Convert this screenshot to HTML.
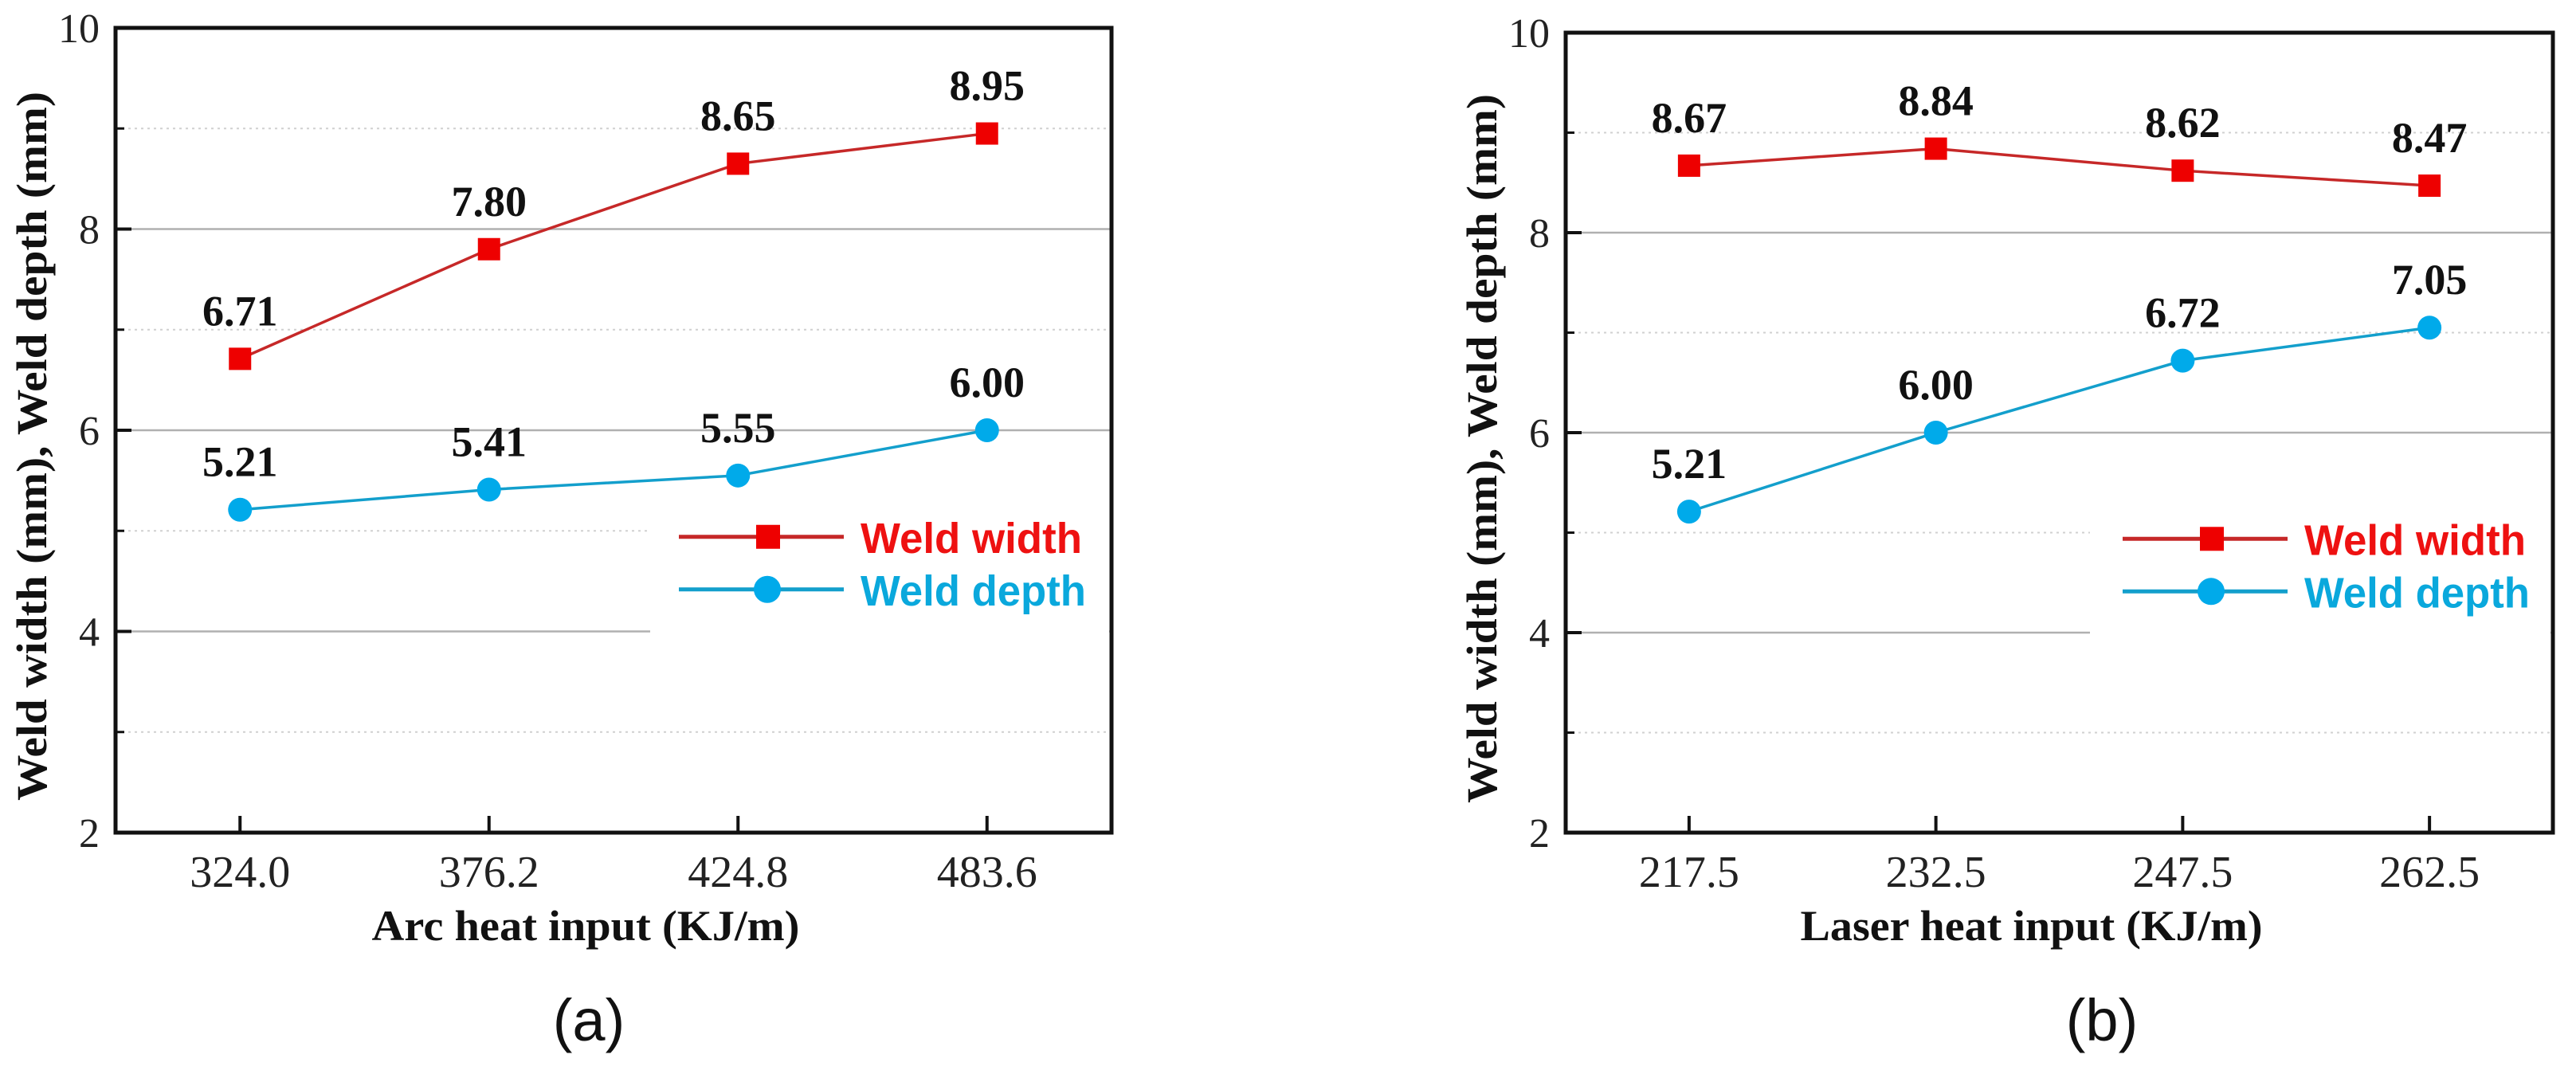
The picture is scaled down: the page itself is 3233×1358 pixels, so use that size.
<!DOCTYPE html>
<html><head><meta charset="utf-8"><style>
html,body{margin:0;padding:0;background:#fff;}
svg{display:block;}
</style></head><body>
<svg id="fig" width="3233" height="1358" viewBox="0 0 3233 1358" xmlns="http://www.w3.org/2000/svg"></svg>
<script>
const catsA = ["324.0","376.2","424.8","483.6"];
const widthA = [6.71,7.80,8.65,8.95];
const depthA = [5.21,5.41,5.55,6.00];
const catsB = ["217.5","232.5","247.5","262.5"];
const widthB = [8.67,8.84,8.62,8.47];
const depthB = [5.21,6.00,6.72,7.05];
const yTicks = [2,4,6,8,10];
const yMinor = [3,5,7,9];

const NS="http://www.w3.org/2000/svg";
const svg=document.getElementById('fig');
function mk(tag,attrs,parent,text){const e=document.createElementNS(NS,tag);for(const k in attrs)e.setAttribute(k,attrs[k]);if(text!==undefined)e.textContent=text;(parent||svg).appendChild(e);return e;}

function panel(id,L,R,T,B,cats,wv,dv,xTitle,xTitleW,legX,legCut,ytitleX,tag,tagX){
  const g=mk('g',{});
  
  
  const yS=v=>B-(v-2)/8*(B-T);
  const bw=(R-L)/cats.length;
  const xS=i=>L+(i+0.5)*bw;
  yMinor.forEach(v=>{const l=mk('line',{x1:L,x2:R,y1:yS(v),y2:yS(v),stroke:'#d0d0d0','stroke-width':2,'stroke-dasharray':'3 5'},g);
    });
  yTicks.filter(v=>v>2&&v<10).forEach(v=>{const l=mk('line',{x1:L,x2:R,y1:yS(v),y2:yS(v),stroke:'#b0b0b0','stroke-width':2.5},g);
    });
  const lb=mk('rect',{x:legCut,y:yS(5.4),width:R-legCut-3,height:yS(3.6)-yS(5.4),fill:'#fff'},g);
  
  const fr=mk('rect',{x:L,y:T,width:R-L,height:B-T,fill:'none',stroke:'#111','stroke-width':5},g);
  
  yTicks.forEach(v=>{
    const t=mk('line',{x1:L,x2:L+20,y1:yS(v),y2:yS(v),stroke:'#111','stroke-width':4},g);
    
    const tx=mk('text',{x:L-20,y:yS(v)+18,'text-anchor':'end','font-family':'Liberation Serif, serif','font-size':52,fill:'#222'},g,String(v));
    
  });
  yMinor.forEach(v=>{const t=mk('line',{x1:L,x2:L+11,y1:yS(v),y2:yS(v),stroke:'#111','stroke-width':3},g);
    });
  cats.forEach((c,i)=>{
    const t=mk('line',{x1:xS(i),x2:xS(i),y1:B,y2:B-21,stroke:'#111','stroke-width':4},g);
    
    const tx=mk('text',{x:xS(i),y:B+68,'text-anchor':'middle','font-family':'Liberation Serif, serif','font-size':56,fill:'#222'},g,c);
    
  });
  function series(vals,color,lineColor,shape,name){
    const pts=vals.map((v,i)=>xS(i)+','+yS(v)).join(' ');
    const pl=mk('polyline',{points:pts,fill:'none',stroke:lineColor,'stroke-width':3.5},g);
    
    vals.forEach((v,i)=>{
      let m;
      if(shape==='sq') m=mk('rect',{x:xS(i)-14,y:yS(v)-14,width:28,height:28,fill:color},g);
      else m=mk('circle',{cx:xS(i),cy:yS(v),r:15,fill:color},g);
      
      const lab=mk('text',{x:xS(i),y:yS(v)-42,'text-anchor':'middle','font-family':'Liberation Serif, serif','font-weight':'bold','font-size':54,fill:'#111'},g,v.toFixed(2));
      
    });
  }
  series(wv,'#ee0000','#c62828','sq','weld-width');
  series(dv,'#00aaea','#139fcc','ci','weld-depth');
  const ly1=yS(5.4)+58, ly2=yS(5.4)+124;
  const l1=mk('line',{x1:legX,x2:legX+207,y1:ly1,y2:ly1,stroke:'#c62828','stroke-width':5},g);
  
  const m1=mk('rect',{x:legX+97,y:ly1-15,width:30,height:30,fill:'#ee0000'},g);
  
  const t1=mk('text',{x:legX+228,y:ly1+20,'font-family':'Liberation Sans, sans-serif','font-weight':'bold','font-size':54,fill:'#ee1111',textLength:278,lengthAdjust:'spacingAndGlyphs'},g,'Weld width');
  
  const l2=mk('line',{x1:legX,x2:legX+207,y1:ly2,y2:ly2,stroke:'#139fcc','stroke-width':5},g);
  
  const m2=mk('circle',{cx:legX+111,cy:ly2,r:17,fill:'#00aaea'},g);
  
  const t2=mk('text',{x:legX+228,y:ly2+20,'font-family':'Liberation Sans, sans-serif','font-weight':'bold','font-size':54,fill:'#0aa8dc',textLength:283,lengthAdjust:'spacingAndGlyphs'},g,'Weld depth');
  
  const yt=mk('text',{x:0,y:0,transform:`translate(${ytitleX},${(T+B)/2+20}) rotate(-90)`,'text-anchor':'middle','font-family':'Liberation Serif, serif','font-weight':'bold','font-size':54,fill:'#111',textLength:890,lengthAdjust:'spacingAndGlyphs'},g,'Weld width (mm), Weld depth (mm)');
  
  const xt=mk('text',{x:(L+R)/2-35,y:1180,'text-anchor':'middle','font-family':'Liberation Serif, serif','font-weight':'bold','font-size':54,fill:'#111',textLength:xTitleW,lengthAdjust:'spacingAndGlyphs'},g,xTitle);
  
  const tg=mk('text',{x:tagX,y:1306,'text-anchor':'middle','font-family':'Liberation Sans, sans-serif','font-size':74,fill:'#111'},g,tag);
  
}
panel('panel-a',145,1395,35,1045,catsA,widthA,depthA,'Arc heat input (KJ/m)',537,852,816,58,'(a)',739);
panel('panel-b',1965,3204,41,1045,catsB,widthB,depthB,'Laser heat input (KJ/m)',580,2664,2623,1878,'(b)',2638);
</script>
</body></html>
